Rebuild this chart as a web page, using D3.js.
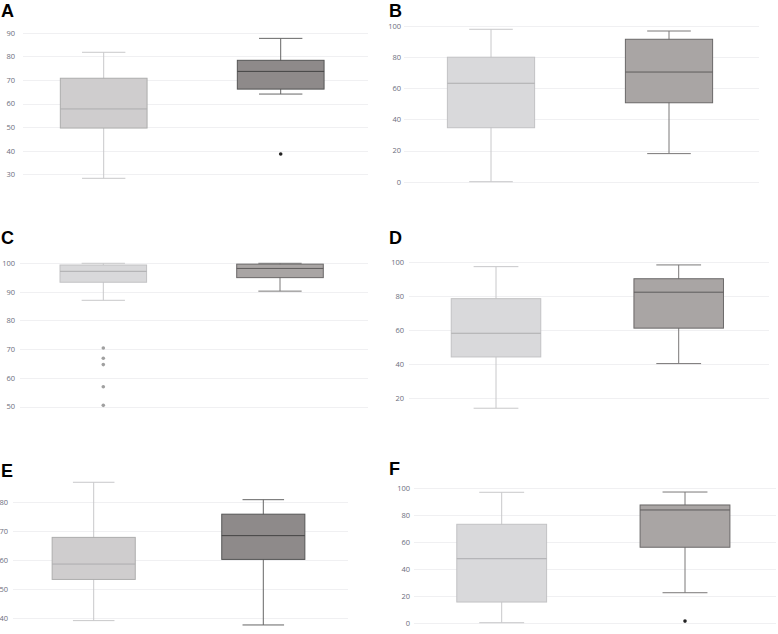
<!DOCTYPE html>
<html><head><meta charset="utf-8">
<script src="https://cdn.jsdelivr.net/npm/d3@7"></script>
<style>body{margin:0;background:#fff}svg{display:block}</style>
</head><body>
<script>
// ---- data ----
const categories = ["Group 1", "Group 2"];
const panelLabels = ["A", "B", "C", "D", "E", "F"];
// [min, q1, median, q3, max]
const boxA = [[28.3, 49.6, 57.7, 70.7, 81.7], [64.0, 66.1, 73.6, 78.3, 87.6]];
const boxB = [[0, 34.6, 63.1, 79.8, 97.7], [18.0, 50.6, 70.3, 91.3, 96.6]];
const boxC = [[87.0, 93.3, 97.1, 99.3, 99.9], [90.2, 94.9, 98.1, 99.6, 99.9]];
const boxD = [[14.0, 44.1, 58.0, 78.3, 97.1], [40.2, 61.0, 82.1, 90.0, 98.1]];
const boxE = [[39.1, 53.3, 58.6, 67.8, 86.8], [37.6, 60.2, 68.4, 75.8, 80.8]];
const boxF = [[0, 15.3, 47.4, 72.9, 96.6], [22.2, 55.9, 83.5, 87.2, 96.8]];
const outliersA = [[], [38.6]];
const outliersB = [[], []];
const outliersC = [[70.4, 66.8, 64.6, 56.9, 50.4], []];
const outliersD = [[], []];
const outliersE = [[], []];
const outliersF = [[], [1.2]];
const ticksA = [30, 40, 50, 60, 70, 80, 90];
const ticksB = [0, 20, 40, 60, 80, 100];
const ticksC = [50, 60, 70, 80, 90, 100];
const ticksD = [20, 40, 60, 80, 100];
const ticksE = [40, 50, 60, 70, 80];
const ticksF = [0, 20, 40, 60, 80, 100];

// ---- layout / style ----
const W = 778, H = 634;
const svg = d3.select("body").append("svg").attr("width", W).attr("height", H);

const panels = [
  {label: panelLabels[0], box: boxA, out: outliersA, ticks: ticksA,
   yd: [30, 90], yr: [174.3, 32.7], c: [103.7, 280.7], grid: [23, 368], lx: 15, letter: [1, 17],
   dark: true},
  {label: panelLabels[1], box: boxB, out: outliersB, ticks: ticksB,
   yd: [0, 100], yr: [181.7, 25.7], c: [491, 669], grid: [404, 759], lx: 401, letter: [389, 17]},
  {label: panelLabels[2], box: boxC, out: outliersC, ticks: ticksC,
   yd: [50, 100], yr: [406.5, 263], c: [103.3, 280], grid: [20, 368], lx: 15, letter: [1, 244]},
  {label: panelLabels[3], box: boxD, out: outliersD, ticks: ticksD,
   yd: [20, 100], yr: [398, 261.7], c: [496, 678.7], grid: [409, 769], lx: 404, letter: [389, 244]},
  {label: panelLabels[4], box: boxE, out: outliersE, ticks: ticksE,
   yd: [40, 80], yr: [618, 502], c: [93.7, 263.3], grid: [13, 348], lx: 8, letter: [1, 477],
   dark: true},
  {label: panelLabels[5], box: boxF, out: outliersF, ticks: ticksF,
   yd: [0, 100], yr: [622.7, 487.7], c: [501.7, 685], grid: [414, 776], lx: 410, letter: [389, 475]}
];

panels.forEach(p => {
  const g = svg.append("g");
  const y = d3.scaleLinear().domain(p.yd).range(p.yr);
  const s = p.c[1] - p.c[0];
  const x = d3.scaleBand().domain(categories).range([p.c[0] - s / 2, p.c[1] + s / 2]).padding(0);
  const bw = x.bandwidth() * 0.49;

  // gridlines
  g.selectAll("line.grid").data(p.ticks).join("line")
    .attr("x1", p.grid[0]).attr("x2", p.grid[1])
    .attr("y1", d => Math.round(y(d)) + 0.5).attr("y2", d => Math.round(y(d)) + 0.5)
    .attr("stroke", "#f0f0f2").attr("stroke-width", 1);

  // y axis labels
  const ax = d3.axisLeft(y).tickValues(p.ticks).tickSize(0).tickPadding(0);
  const axg = g.append("g").attr("transform", `translate(${p.lx},0)`).call(ax);
  axg.select(".domain").remove();
  axg.selectAll("text").attr("font-family", "'Open Sans', sans-serif")
    .attr("font-size", 7.5).attr("fill", "#6a6e7c");

  // panel letter
  g.append("text").attr("x", p.letter[0]).attr("y", p.letter[1]).text(p.label)
    .attr("font-family", "'Liberation Sans', Arial, sans-serif").attr("font-weight", "bold")
    .attr("font-size", 18).attr("fill", "#000");

  const styles = [
    {fill: p.dark ? "#cfcdce" : "#d9d9db", stroke: p.dark ? "#adadad" : "#c2c2c4",
     whisk: "#c8c8ca", med: "#adadaf", dot: "#a0a0a0"},
    {fill: p.dark ? "#8e8a8a" : "#a9a5a4", stroke: p.dark ? "#555" : "#6a6868",
     whisk: p.dark ? "#666" : "#7a7878", med: p.dark ? "#444" : "#5e5c5c", dot: "#222"}
  ];

  categories.forEach((cat, i) => {
    const b = p.box[i], st = styles[i];
    const cx = x(cat) + x.bandwidth() / 2;
    // whisker stem
    g.append("line").attr("x1", cx).attr("x2", cx).attr("y1", y(b[0])).attr("y2", y(b[4]))
      .attr("stroke", st.whisk).attr("stroke-width", 1);
    // caps
    [b[0], b[4]].forEach(v => {
      g.append("line").attr("x1", cx - bw / 4).attr("x2", cx + bw / 4)
        .attr("y1", y(v)).attr("y2", y(v)).attr("stroke", st.whisk).attr("stroke-width", 1);
    });
    // box
    g.append("rect").attr("x", cx - bw / 2).attr("width", bw)
      .attr("y", y(b[3])).attr("height", y(b[1]) - y(b[3]))
      .attr("fill", st.fill).attr("stroke", st.stroke).attr("stroke-width", 1);
    // median
    g.append("line").attr("x1", cx - bw / 2).attr("x2", cx + bw / 2)
      .attr("y1", y(b[2])).attr("y2", y(b[2])).attr("stroke", st.med).attr("stroke-width", 1);
    // outliers
    g.selectAll(null).data(p.out[i]).join("circle")
      .attr("cx", cx).attr("cy", d => y(d)).attr("r", 1.8).attr("fill", st.dot);
  });
});
</script>
</body></html>
